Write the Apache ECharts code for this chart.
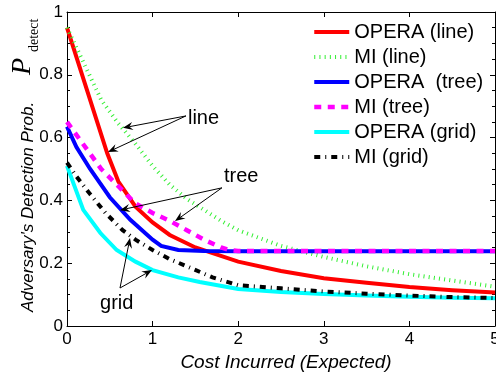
<!DOCTYPE html>
<html><head><meta charset="utf-8">
<script src="https://cdn.jsdelivr.net/npm/echarts@6/dist/echarts.min.js"></script>
<style>html,body{margin:0;padding:0;background:#fff}#c{width:496px;height:372px}</style>
</head><body><div id="c"></div>
<script>
const seriesNames = ['OPERA (line)', 'MI (line)', 'OPERA  (tree)', 'MI (tree)', 'OPERA (grid)', 'MI (grid)'];

const operaLineX = [0, 0.47, 0.6, 0.8, 1.0, 1.2, 1.5, 2.0, 2.5, 3.0, 3.5, 4.0, 4.5, 5];
const operaLineY = [0.95, 0.55, 0.46, 0.38, 0.33, 0.29, 0.25, 0.205, 0.175, 0.152, 0.138, 0.124, 0.114, 0.107];

const miLineX = [0, 0.2, 0.4, 0.6, 0.8, 1.0, 1.2, 1.4, 1.6, 1.8, 2.0, 2.5, 3.0, 3.5, 4.0, 4.5, 5];
const miLineY = [0.95, 0.835, 0.72, 0.645, 0.58, 0.51, 0.45, 0.405, 0.37, 0.335, 0.305, 0.255, 0.22, 0.19, 0.165, 0.145, 0.125];

const operaTreeX = [0, 0.11, 0.27, 0.5, 0.74, 1.0, 1.1, 1.3, 1.6, 2.0, 5];
const operaTreeY = [0.635, 0.57, 0.5, 0.41, 0.338, 0.275, 0.255, 0.242, 0.239, 0.238, 0.238];

const miTreeX = [0, 0.2, 0.4, 0.6, 0.8, 1.0, 1.2, 1.4, 1.6, 1.8, 1.9, 2.0, 5];
const miTreeY = [0.65, 0.575, 0.5, 0.445, 0.39, 0.36, 0.335, 0.305, 0.275, 0.25, 0.242, 0.239, 0.239];

const operaGridX = [0, 0.19, 0.39, 0.58, 0.8, 1.0, 1.3, 1.55, 2.0, 2.5, 3.0, 3.5, 4.0, 4.5, 5];
const operaGridY = [0.51, 0.37, 0.296, 0.242, 0.205, 0.178, 0.155, 0.14, 0.118, 0.108, 0.102, 0.097, 0.093, 0.09, 0.088];

const miGridX = [0, 0.1, 0.27, 0.45, 0.65, 0.8, 1.0, 1.2, 1.4, 1.7, 2.0, 2.5, 3.0, 3.5, 4.0, 4.5, 5];
const miGridY = [0.52, 0.48, 0.42, 0.36, 0.305, 0.275, 0.242, 0.213, 0.19, 0.155, 0.13, 0.12, 0.11, 0.103, 0.097, 0.092, 0.089];

// annotations (data coordinates)
const annoLabels = ['line', 'tree', 'grid'];
const annoTextAt = [[1.413, 0.662], [1.834, 0.475], [0.386, 0.073]];
const annoTails = [[1.39, 0.669], [1.81, 0.44], [0.619, 0.121]];
const annoHeads = [
  [[0.654, 0.631], [0.479, 0.554]],
  [[0.619, 0.369], [1.262, 0.334]],
  [[0.736, 0.280], [0.993, 0.178]]
];

const yTitleMain = 'Adversary\'s Detection Prob.';
const yTitleSym = 'P';
const yTitleSub = 'detect';

const pairs = (xs, ys) => xs.map((x, i) => [x, ys[i]]);
const SANS = '"Liberation Sans", Arial, sans-serif';
const SERIF = '"Liberation Serif", "Times New Roman", serif';

const styles = [
  {color: '#ff0000', width: 4, type: 'solid'},
  {color: '#33ee33', width: 4, type: [1, 4.2]},
  {color: '#0000ff', width: 4, type: 'solid'},
  {color: '#ff00ff', width: 4.5, type: [7, 6.5]},
  {color: '#00ffff', width: 4, type: 'solid'},
  {color: '#000000', width: 4, type: [6, 5, 1, 5]}
];
const dataSets = [
  pairs(operaLineX, operaLineY), pairs(miLineX, miLineY),
  pairs(operaTreeX, operaTreeY), pairs(miTreeX, miTreeY),
  pairs(operaGridX, operaGridY), pairs(miGridX, miGridY)
];

const series = seriesNames.map((n, i) => ({
  name: n, type: 'line', data: dataSets[i], symbol: 'none',
  xAxisIndex: 0, yAxisIndex: 0,
  lineStyle: {color: styles[i].color, width: styles[i].width, type: styles[i].type, cap: 'butt', join: 'miter'},
  itemStyle: {color: styles[i].color},
  z: 2 + i, animation: false
}));

const axisCommon = {
  axisLine: {show: true, onZero: false, lineStyle: {color: '#000', width: 1}},
  axisTick: {show: true, inside: true, length: 5, lineStyle: {color: '#000'}},
  splitLine: {show: false}
};

const option = {
  animation: false,
  backgroundColor: '#fff',
  textStyle: {fontFamily: SANS},
  grid: {left: 67, right: 1, top: 12, bottom: 46, containLabel: false, outerBoundsMode: 'none'},
  legend: {
    orient: 'vertical', left: 312, top: 22, padding: 0,
    itemWidth: 35, itemHeight: 14, itemGap: 5,
    data: seriesNames,
    textStyle: {fontFamily: SANS, fontSize: 20, color: '#000', lineHeight: 20},
    lineStyle: {width: 'inherit'},
    itemStyle: {opacity: 0}
  },
  xAxis: [
    Object.assign({}, axisCommon, {
      type: 'value', min: 0, max: 5, interval: 1, position: 'bottom',
      axisLabel: {fontSize: 17, color: '#000', margin: 5, fontFamily: SANS, showMaxLabel: true},
      name: 'Cost Incurred (Expected)', nameLocation: 'middle', nameGap: 24,
      nameTextStyle: {fontSize: 19, fontStyle: 'italic', color: '#000', fontFamily: SANS, padding: [0, 0, 0, 10]}
    }),
    Object.assign({}, axisCommon, {
      type: 'value', min: 0, max: 5, interval: 1, position: 'top',
      axisLabel: {show: false}
    })
  ],
  yAxis: [
    Object.assign({}, axisCommon, {
      type: 'value', min: 0, max: 1, interval: 0.2, position: 'left',
      minorTick: {show: true, splitNumber: 4, length: 3, lineStyle: {color: '#000'}},
      axisLabel: {fontSize: 17, color: '#000', margin: 4, fontFamily: SANS}
    }),
    Object.assign({}, axisCommon, {
      type: 'value', min: 0, max: 1, interval: 0.2, position: 'right',
      minorTick: {show: true, splitNumber: 4, length: 3, lineStyle: {color: '#000'}},
      axisLabel: {show: false}
    })
  ],
  series: series
};

const chart = echarts.init(document.getElementById('c'), null, {renderer: 'canvas'});
chart.setOption(option);

const toPx = p => chart.convertToPixel({xAxisIndex: 0, yAxisIndex: 0}, p);
const els = [];
annoLabels.forEach((t, i) => {
  const tp = toPx(annoTextAt[i]);
  els.push({type: 'text', x: tp[0], y: tp[1], z: 50,
    style: {text: t, fontSize: 20, fontFamily: SANS, fill: '#000', align: 'left', verticalAlign: 'middle'}});
  const tail = toPx(annoTails[i]);
  annoHeads[i].forEach(hd => {
    const h = toPx(hd);
    const dx = h[0] - tail[0], dy = h[1] - tail[1];
    const len = Math.sqrt(dx * dx + dy * dy);
    const ux = dx / len, uy = dy / len, nx = -uy, ny = ux;
    const L = 10, W = 4;
    const bx = h[0] - ux * L, by = h[1] - uy * L;
    const notch = [h[0] - ux * L * 0.65, h[1] - uy * L * 0.65];
    els.push({type: 'line', z: 50, shape: {x1: tail[0], y1: tail[1], x2: notch[0], y2: notch[1]},
      style: {stroke: '#000', lineWidth: 1}});
    els.push({type: 'polygon', z: 50, shape: {points: [h, [bx + nx * W, by + ny * W], notch, [bx - nx * W, by - ny * W]]},
      style: {fill: '#000'}});
  });
});

// rotated y-axis title (reads bottom to top), as one rotated group
els.push({type: 'group', x: 28, y: 312, rotation: Math.PI / 2, z: 50, children: [
  {type: 'text', x: 0, y: 0, z: 50,
    style: {text: yTitleMain, fontSize: 17, fontStyle: 'italic', fontFamily: SANS, fill: '#000', align: 'left', verticalAlign: 'middle'}},
  {type: 'text', x: 237, y: -5.5, z: 50,
    style: {text: yTitleSym, fontSize: 28, fontStyle: 'italic', fontFamily: SERIF, fill: '#000', align: 'left', verticalAlign: 'middle'}},
  {type: 'text', x: 260, y: 6.5, z: 50,
    style: {text: yTitleSub, fontSize: 14, fontFamily: SERIF, fill: '#000', align: 'left', verticalAlign: 'middle'}}
]});

chart.setOption({graphic: els});
</script>
</body></html>
